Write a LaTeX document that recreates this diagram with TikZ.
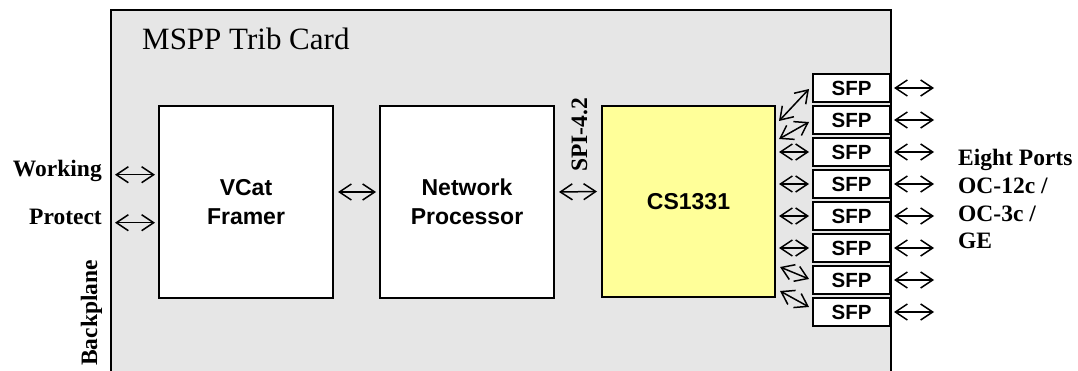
\documentclass[tikz,border=0pt]{standalone}
\usepackage{fontspec}
\setmainfont{Liberation Serif}
\setsansfont{Liberation Sans}
\usetikzlibrary{arrows.meta}
\definecolor{cardgray}{HTML}{E6E6E6}
\definecolor{chipyellow}{HTML}{FFFF99}

\begin{document}
\begin{tikzpicture}[x=1pt, y=-1pt,
  blk/.style={draw, line width=2pt, fill=white, inner sep=0pt, align=center, minimum width=174pt, minimum height=192pt, font=\sffamily\bfseries\fontsize{23}{28.5}\selectfont},
  sfpbox/.style={draw, line width=2pt, fill=white, inner sep=0pt, minimum width=77pt, minimum height=28pt, font=\sffamily\bfseries\fontsize{20.5}{24}\selectfont},
  io/.style={line width=1.5pt, {Straight Barb[length=12pt,width=16pt]}-{Straight Barb[length=12pt,width=16pt]}},
  lbl/.style={inner sep=0pt, font=\bfseries\fontsize{23.5}{27.7}\selectfont}]
\useasboundingbox (0,0) rectangle (1078,371);
\fill[cardgray] (111,10) rectangle (891,371);
\draw[line width=2pt] (111,371) -- (111,10) -- (891,10) -- (891,371);
\node[anchor=base west, inner sep=0pt, font=\fontsize{31}{36}\selectfont] (title) at (142,50) {MSPP Trib Card};

\node[blk] (framer) at (246,202) {VCat\\Framer};
\node[blk] (np) at (467,202) {Network\\Processor};
\node[blk, fill=chipyellow, minimum width=173pt, minimum height=191pt] (cs) at (688.5,201.5) {CS1331};

\foreach \i in {1,...,8} {
  \node[sfpbox] (sfp\i) at (851.5,56+32*\i) {SFP};
  \coordinate (port\i) at (934,56+32*\i);
  \draw[io] ([xshift=3pt]sfp\i.east) -- (port\i);
}

% backplane side
\node[lbl, anchor=base east] (working) at (102,177) {Working};
\node[lbl, anchor=base east] (protect) at (102,225) {Protect};
\node[lbl, rotate=90, anchor=base west] (backplane) at (97,366) {Backplane};
\draw[io] ([xshift=13pt]working.mid east) -- ([xshift=-3pt]framer.west |- working.mid east);
\draw[io] ([xshift=13pt]protect.mid east) -- ([xshift=-3pt]framer.west |- protect.mid east);

\draw[io] ([shift={(4,-10)}]framer.east) -- ([shift={(-3,-10)}]np.west);
\draw[io] ([shift={(4,-10)}]np.east) -- ([shift={(-4,-10)}]cs.west);
\node[lbl, rotate=90, anchor=base west] (spi) at (587,172) {SPI-4.2};

% chip to sfp
\draw[io] ([shift={(3,16)}]cs.north east) -- ([shift={(-3,1)}]sfp1.west);
\draw[io] ([shift={(3,34)}]cs.north east) -- ([shift={(-3,2)}]sfp2.west);
\foreach \i in {3,...,6}
  \draw[io] ([xshift=3pt]cs.east |- sfp\i.west) -- ([xshift=-3pt]sfp\i.west);
\draw[io] ([shift={(4,-31)}]cs.south east) -- ([shift={(-3,-1)}]sfp7.west);
\draw[io] ([shift={(4,-7)}]cs.south east) -- ([shift={(-3,-5)}]sfp8.west);

\node[lbl, anchor=base west, align=left] (ports) at (958,249) {Eight Ports\\OC-12c /\\OC-3c /\\GE};
\end{tikzpicture}
\end{document}
